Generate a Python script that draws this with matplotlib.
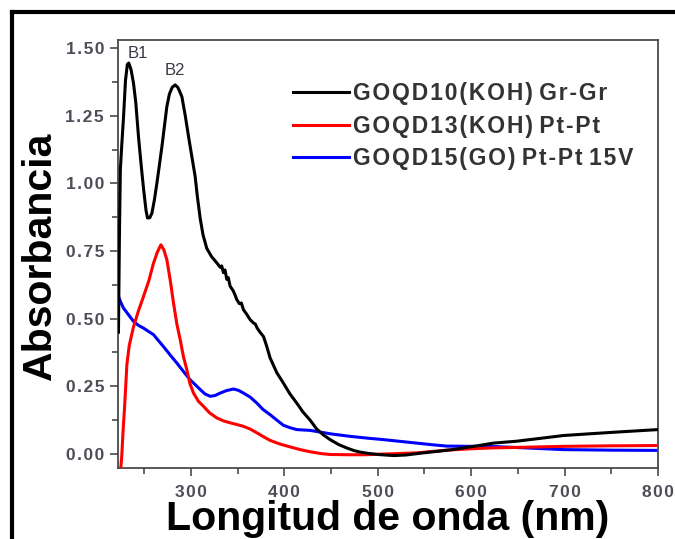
import numpy as np
import matplotlib
matplotlib.use('Agg')
import matplotlib.pyplot as plt
from matplotlib.lines import Line2D
from matplotlib.ticker import FixedLocator, MultipleLocator, FixedFormatter

plt.rcParams['font.family'] = ['Liberation Sans', 'DejaVu Sans']

# Espectros UV-Vis (longitud de onda en nm, absorbancia)
black_nm = [222.5, 223.5, 224.5, 226, 228, 230, 232, 233.5, 236, 238.6, 241, 244, 247, 249.5,
            252, 253.6, 256, 258.3, 261, 263.6, 266, 269, 272, 274.3, 277, 280, 283.2, 286,
            288, 290.4, 294, 297.5, 301, 304.6, 307, 310, 313, 317, 322, 327.8, 331.4, 333,
            334.9, 336.5, 338.5, 340, 342, 345, 347, 349.2, 352, 354, 356.3, 360, 363.5, 367,
            369, 371, 374, 377.7, 381, 384.8, 392, 399, 406, 413.3, 420, 427.6, 434.7, 442,
            449, 458, 466.8, 475, 481, 490, 500, 516.8, 530, 549, 565, 580, 595, 610, 623.8,
            648.6, 675, 698.6, 725, 752, 776, 800]
black_abs = [0.45, 0.80, 1.05, 1.14, 1.25, 1.38, 1.44, 1.445, 1.42, 1.37, 1.30, 1.17, 1.06, 0.975,
             0.90, 0.872, 0.873, 0.89, 0.94, 1.00, 1.06, 1.136, 1.22, 1.284, 1.33, 1.355, 1.364, 1.355,
             1.34, 1.32, 1.25, 1.173, 1.10, 1.025, 0.95, 0.87, 0.81, 0.76, 0.73, 0.706, 0.69, 0.695,
             0.67, 0.68, 0.645, 0.652, 0.62, 0.605, 0.59, 0.57, 0.555, 0.558, 0.533, 0.515, 0.496, 0.484,
             0.48, 0.465, 0.45, 0.434, 0.40, 0.355, 0.30, 0.262, 0.222, 0.188, 0.155, 0.125, 0.092, 0.07,
             0.053, 0.035, 0.022, 0.012, 0.007, 0.002, -0.002, -0.006, -0.004, 0.004, 0.010, 0.016, 0.024, 0.032, 0.040,
             0.047, 0.058, 0.068, 0.074, 0.080, 0.085, 0.090]

red_nm = [222.5, 224.5, 226, 227.5, 229, 231.5, 234, 238.6, 244, 249.3, 255, 260, 264, 267.9,
          271, 274.3, 278, 281.4, 285, 288.6, 292, 295.7, 299, 302.8, 308, 313.5, 320, 327.8,
          335, 342, 350, 356.3, 363.5, 370.6, 378, 384.8, 395, 406.2, 417, 427.6, 440, 449,
          470, 486, 510, 542, 574, 600, 620, 660, 699, 750, 798]
red_abs = [-0.12, -0.07, -0.01, 0.09, 0.17, 0.33, 0.40, 0.47, 0.53, 0.582, 0.64, 0.705, 0.745, 0.773,
           0.755, 0.718, 0.64, 0.558, 0.48, 0.422, 0.36, 0.311, 0.26, 0.225, 0.195, 0.176, 0.152, 0.133,
           0.122, 0.115, 0.108, 0.102, 0.092, 0.078, 0.063, 0.05, 0.037, 0.026, 0.016, 0.008, 0.001, -0.002,
           -0.003, -0.003, 0.0, 0.004, 0.014, 0.019, 0.022, 0.025, 0.028, 0.030, 0.031]

blue_nm = [222.5, 225, 227.9, 232, 238.6, 244, 249.3, 255, 260, 265, 270.6, 278, 285, 292,
           299.2, 305, 310, 315, 320.7, 326, 331.4, 338, 345.6, 351, 356.3, 363.5, 370.6, 377,
           384.8, 392, 399, 406, 413.3, 427.6, 434.7, 450, 470.4, 490, 506, 525, 541.8, 558,
           573.9, 600, 627, 660, 699, 750, 800]
blue_abs = [0.582, 0.56, 0.539, 0.52, 0.49, 0.475, 0.465, 0.452, 0.441, 0.42, 0.397, 0.365, 0.336, 0.305,
            0.274, 0.255, 0.238, 0.222, 0.213, 0.216, 0.225, 0.234, 0.24, 0.235, 0.225, 0.21, 0.188, 0.165,
            0.145, 0.125, 0.106, 0.097, 0.09, 0.087, 0.083, 0.074, 0.065, 0.058, 0.053, 0.046, 0.04, 0.034,
            0.029, 0.028, 0.027, 0.022, 0.016, 0.014, 0.013]

labels = ['GOQD10(KOH) Gr-Gr', 'GOQD13(KOH) Pt-Pt', 'GOQD15(GO) Pt-Pt 15V']
x_ticks = [300, 400, 500, 600, 700, 800]
y_ticks = [0.00, 0.25, 0.50, 0.75, 1.00, 1.25, 1.50]
x_ticklabels = ['300', '400', '500', '600', '700', '800']
y_ticklabels = ['0.00', '0.25', '0.50', '0.75', '1.00', '1.25', '1.50']
bands = [('B1', 243.6, 1.479), ('B2', 282.7, 1.416)]


def spaced(s, gap='\u200a'):
    # espaciado fino entre letras, los espacios normales se mantienen
    words = s.split(' ')
    return ' '.join(gap.join(w) for w in words)


W, H = 675, 539
fig = plt.figure(figsize=(W / 100, H / 100), dpi=100)
ax = fig.add_axes([118 / W, 1 - 468 / H, 540 / W, 428 / H])

ax.plot(blue_nm, blue_abs, color='#0000ff', lw=2.2, zorder=2)
ax.plot(red_nm, red_abs, color='#ff0000', lw=2.2, zorder=3)
ax.plot(black_nm, black_abs, color='black', lw=2.2, zorder=4)

ax.set_xlim(222, 800)
ax.set_ylim(-0.052, 1.53)

spine_c = '#4a4a4a'
for s in ax.spines.values():
    s.set_color(spine_c)
    s.set_linewidth(1.3)

ax.xaxis.set_major_locator(FixedLocator(x_ticks))
ax.xaxis.set_major_formatter(FixedFormatter([spaced(t) for t in x_ticklabels]))
ax.xaxis.set_minor_locator(MultipleLocator(50))
ax.yaxis.set_major_locator(FixedLocator(y_ticks))
ax.yaxis.set_major_formatter(FixedFormatter([spaced(t) for t in y_ticklabels]))
ax.yaxis.set_minor_locator(MultipleLocator(0.125))

tick_c = '#4d4d57'
ax.tick_params(which='both', direction='out', color=spine_c, width=1.2)
ax.tick_params(which='major', length=6)
ax.tick_params(which='minor', length=4)
ax.tick_params(axis='x', which='major', pad=6, labelsize=12.5, labelcolor=tick_c)
ax.tick_params(axis='y', which='major', pad=4, labelsize=12.5, labelcolor=tick_c)
for lab in ax.get_xticklabels() + ax.get_yticklabels():
    lab.set_fontweight('bold')

for name, xb, yb in bands:
    ax.text(xb, yb, name, ha='center', va='center', fontsize=12, color='#3a3a48')

handles = [Line2D([], [], color=c, lw=2.2) for c in ['black', '#ff0000', '#0000ff']]
leg = ax.legend(handles, [spaced(l) for l in labels],
                loc='upper left', bbox_to_anchor=(293 / W, 1 - 82 / H),
                bbox_transform=fig.transFigure, frameon=False, fontsize=16.5,
                handlelength=2.45, handletextpad=0.15, labelspacing=0.42, borderpad=0,
                borderaxespad=0)
for t in leg.get_texts():
    t.set_color('#333333')
    t.set_fontweight('bold')

fig.text(388 / W, 1 - 530 / H, 'Longitud de onda (nm)', ha='center', va='baseline',
         fontsize=29.5, fontweight='bold', color='black')
fig.text(40 / W, 1 - 256 / H, 'Absorbancia', ha='center', va='center', rotation=90,
         fontsize=29.5, fontweight='bold', color='black')

# marco exterior
fig.add_artist(Line2D([12 / W, 1.0], [1 - 12 / H, 1 - 12 / H], color='black', lw=3, transform=fig.transFigure))
fig.add_artist(Line2D([12 / W, 12 / W], [0.0, 1 - 12 / H], color='black', lw=3, transform=fig.transFigure))

fig.savefig('out.png', dpi=100)
